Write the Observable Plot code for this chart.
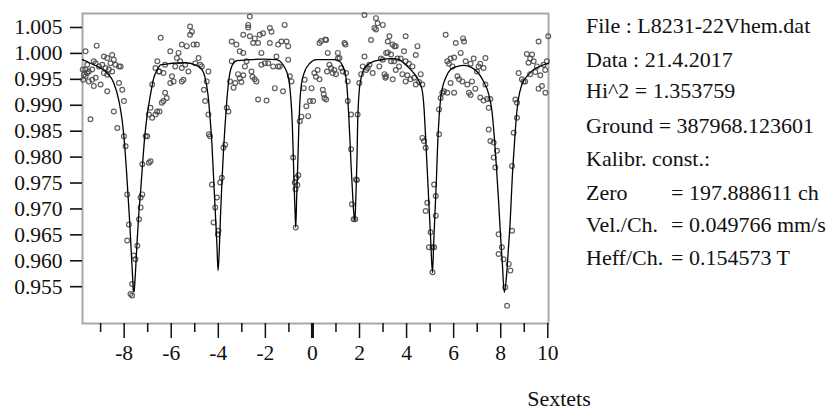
<!DOCTYPE html>
<html>
<head>
<meta charset="utf-8">
<script src="https://cdn.jsdelivr.net/npm/d3@7"></script>
<script src="https://cdn.jsdelivr.net/npm/@observablehq/plot@0.6"></script>
<style>
  html, body { margin: 0; padding: 0; background: #fff; }
  #chart { width: 829px; height: 410px; }
</style>
</head>
<body>
<div id="chart"></div>
<script>
// ---- Data ----
const yTicks = [1.005, 1.000, 0.995, 0.990, 0.985, 0.980, 0.975, 0.970, 0.965, 0.960, 0.955];
const xMajor = [-8, -6, -4, -2, 0, 2, 4, 6, 8, 10];
const xMinor = [-9, -7, -5, -3, -1, 1, 3, 5, 7, 9];
const xLabel = "Sextets";
const infoLabels = ["File : L8231-22Vhem.dat", "Data : 21.4.2017", "Hi^2 = 1.353759", "Ground = 387968.123601", "Kalibr. const.:", "Zero", "Vel./Ch.", "Heff/Ch."];
const infoValues = ["", "", "", "", "", "= 197.888611 ch", "= 0.049766 mm/s", "= 0.154573 T"];

// measured points [velocity mm/s, relative transmission]
const measured = [
[-9.76,0.9969],[-9.74,0.9949],[-9.71,0.9959],[-9.64,1.0004],[-9.64,0.9969],[-9.64,0.9956],[-9.57,0.9978],[-9.57,0.9962],[-9.50,0.9965],[-9.50,0.9946],[-9.43,0.9873],[-9.36,0.9969],[-9.36,0.9949],[-9.29,0.9985],[-9.29,0.9937],[-9.21,0.9981],[-9.21,0.9953],[-9.17,1.0015],[-9.07,0.9975],[-9.00,0.9940],[-8.93,0.9978],[-8.86,0.9994],[-8.86,0.9962],[-8.79,0.9972],[-8.72,0.9991],[-8.72,0.9959],[-8.72,0.9927],[-8.65,0.9969],[-8.58,0.9981],[-8.51,0.9997],[-8.51,0.9965],[-8.44,0.9988],[-8.44,0.9888],[-8.37,0.9978],[-8.29,0.9856],[-8.22,0.9975],[-8.22,0.9943],[-8.15,0.9975],[-8.08,0.9930],[-8.01,0.9908],[-8.01,0.9840],[-7.94,0.9821],[-7.87,0.9728],[-7.80,0.9670],[-7.87,0.9639],[-7.73,0.9536],[-7.66,0.9555],[-7.66,0.9533],[-7.59,0.9610],[-7.52,0.9603],[-7.44,0.9629],[-7.37,0.9680],[-7.30,0.9703],[-7.30,0.9722],[-7.23,0.9728],[-7.23,0.9786],[-7.09,0.9840],[-7.02,0.9840],[-6.95,0.9789],[-6.88,0.9792],[-6.95,0.9882],[-6.88,0.9895],[-6.81,0.9940],[-6.67,0.9972],[-6.59,0.9985],[-6.53,0.9965],[-6.45,1.0030],
[-6.81,0.9876],[-6.67,0.9882],[-6.60,0.9888],[-6.50,0.9965],[-6.40,0.9905],[-6.50,0.9888],[-6.33,0.9962],[-6.33,0.9908],[-6.26,0.9978],[-6.26,0.9924],[-6.19,0.9914],[-6.04,1.0004],[-6.04,0.9943],[-5.97,0.9956],[-5.90,0.9946],[-5.83,0.9975],[-5.76,0.9991],[-5.69,1.0001],[-5.62,0.9985],[-5.55,1.0017],[-5.55,0.9972],[-5.55,0.9946],[-5.48,0.9949],[-5.41,0.9978],[-5.34,1.0014],[-5.27,0.9965],[-5.20,1.0052],[-5.20,1.0036],[-5.12,1.0042],[-5.05,1.0017],[-4.98,0.9981],[-4.91,1.0017],[-4.84,0.9991],[-4.77,0.9978],[-4.70,0.9975],[-4.61,0.9930],[-4.56,0.9908],[-4.49,0.9946],[-4.42,0.9965],[-4.42,0.9882],[-4.40,0.9844],[-4.35,0.9840],[-4.27,0.9747],[-4.20,0.9674],[-4.13,0.9703],[-4.06,0.9722],[-4.02,0.9651],[-3.99,0.9658],[-3.92,0.9751],[-3.85,0.9760],[-3.78,0.9818],[-3.71,0.9824],[-3.64,0.9895],[-3.57,0.9888],[-3.50,0.9946],[-3.43,0.9985],[-3.43,1.0023],[-3.35,0.9934],[-3.28,0.9943],
[-3.23,1.0017],[-3.16,0.9960],[-3.09,1.0004],[-3.09,0.9952],[-3.02,0.9945],[-2.94,1.0036],[-2.94,1.0001],[-2.94,0.9958],[-2.87,0.9975],[-2.80,0.9985],[-2.73,1.0055],[-2.73,1.0050],[-2.66,1.0071],[-2.66,1.0033],[-2.59,0.9965],[-2.55,0.9955],[-2.52,1.0020],[-2.45,1.0029],[-2.45,0.9950],[-2.38,0.9946],[-2.31,1.0020],[-2.31,0.9911],[-2.24,1.0036],[-2.17,1.0001],[-2.17,0.9978],[-2.10,1.0039],[-2.02,0.9981],[-1.95,0.9909],[-1.88,0.9981],[-1.81,1.0049],[-1.81,1.0020],[-1.74,1.0042],[-1.67,0.9975],[-1.60,0.9933],[-1.53,0.9994],[-1.46,1.0017],[-1.46,0.9975],[-1.39,0.9975],[-1.32,1.0023],[-1.25,0.9927],[-1.18,1.0055],[-1.10,1.0023],[-1.03,1.0014],[-1.03,0.9988],[-0.96,0.9956],[-0.89,0.9946],[-0.82,0.9799],[-0.75,0.9751],[-0.72,0.9738],[-0.71,0.9664],[-0.68,0.9760],[-0.64,0.9746],[-0.60,0.9765],[-0.54,0.9869],[-0.47,0.9878],[-0.37,0.9933],[-0.33,0.9949],[-0.26,0.9898],[-0.18,0.9879],[-0.11,0.9908],[-0.04,0.9933],[0.03,0.9908],
[0.08,0.9962],[0.15,0.9955],[0.22,0.9968],[0.30,1.0020],[0.30,0.9950],[0.37,1.0024],[0.44,0.9930],[0.48,0.9921],[0.51,0.9914],[0.55,1.0027],[0.58,1.0026],[0.58,0.9911],[0.62,0.9965],[0.65,1.0001],[0.72,0.9978],[0.79,0.9972],[0.86,0.9962],[0.93,0.9968],[1.00,0.9960],[1.08,1.0001],[1.08,0.9990],[1.15,0.9991],[1.22,0.9972],[1.29,0.9965],[1.36,1.0020],[1.40,1.0017],[1.43,0.9962],[1.50,0.9946],[1.50,0.9908],[1.64,0.9882],[1.64,0.9815],[1.68,0.9709],[1.75,0.9680],[1.82,0.9680],[1.85,0.9757],[1.89,0.9756],[1.92,0.9882],[1.99,0.9943],[2.07,0.9960],[2.14,0.9975],[2.21,1.0074],[2.21,0.9994],[2.28,0.9968],[2.35,0.9972],[2.42,0.9978],[2.49,1.0026],[2.56,0.9962],[2.63,1.0049],[2.70,1.0068],[2.70,1.0046],[2.77,1.0058],[2.84,0.9975],[2.91,0.9990],[2.99,1.0055],[2.99,0.9988],[3.06,0.9960],[3.10,0.9953],[3.13,0.9956],[3.13,1.0001],[3.20,1.0023],[3.20,1.0002],[3.27,1.0033],[3.34,0.9985],[3.34,0.9998],[3.41,0.9950],[3.48,1.0014],
[3.40,1.0017],[3.47,0.9985],[3.54,1.0014],[3.54,0.9968],[3.61,0.9990],[3.68,0.9975],[3.75,0.9990],[3.82,0.9960],[3.89,1.0004],[3.96,1.0033],[3.96,0.9946],[3.96,0.9985],[4.03,0.9958],[4.10,0.9980],[4.17,0.9950],[4.25,0.9975],[4.32,0.9953],[4.39,0.9997],[4.39,0.9940],[4.46,1.0014],[4.53,0.9945],[4.60,0.9960],[4.67,0.9940],[4.67,0.9837],[4.74,0.9831],[4.81,0.9818],[4.81,0.9696],[4.88,0.9712],[4.95,0.9626],[5.02,0.9655],[5.10,0.9626],[5.10,0.9578],[5.17,0.9626],[5.17,0.9747],[5.24,0.9725],[5.24,0.9687],[5.38,0.9844],[5.38,0.9892],[5.45,0.9914],[5.52,0.9924],[5.59,0.9927],[5.66,1.0036],[5.73,0.9924],[5.73,0.9985],[5.80,0.9980],[5.87,0.9943],[5.87,0.9990],[5.95,0.9975],[6.02,0.9924],[6.02,0.9992],[6.09,1.0020],[6.16,0.9956],[6.23,0.9950],[6.30,1.0001],[6.37,0.9946],[6.40,1.0029],[6.44,1.0023],[6.51,0.9985],[6.58,0.9940],[6.65,0.9924],[6.72,0.9980],[6.72,0.9920],
[6.78,0.9946],[6.85,0.9990],[6.92,0.9932],[6.99,0.9965],[7.06,0.9975],[7.13,0.9980],[7.13,0.9915],[7.27,0.9972],[7.27,0.9909],[7.35,0.9940],[7.35,0.9991],[7.42,0.9912],[7.49,0.9895],[7.49,0.9853],[7.56,0.9912],[7.56,0.9831],[7.70,0.9799],[7.70,0.9828],[7.77,0.9780],[7.84,0.9812],[7.91,0.9651],[7.91,0.9613],[8.05,0.9626],[8.12,0.9603],[8.19,0.9549],[8.27,0.9513],[8.34,0.9594],[8.41,0.9581],[8.48,0.9658],[8.48,0.9783],[8.55,0.9847],[8.62,0.9911],[8.69,0.9876],[8.69,0.9905],[8.76,0.9962],[8.90,0.9950],[8.97,0.9946],[9.04,0.9946],[9.11,0.9999],[9.18,0.9982],[9.25,0.9990],[9.25,0.9960],[9.33,0.9998],[9.40,0.9985],[9.47,0.9964],[9.54,0.9975],[9.61,1.0023],[9.61,0.9932],[9.68,0.9958],[9.75,0.9937],[9.82,0.9978],[9.89,0.9968],[9.90,0.9924],[9.96,0.9985],[10.02,1.0033]
];

// fitted curve [velocity mm/s, relative transmission]
const fitted = [
[-9.77,0.9988],[-9.43,0.9981],[-9.14,0.9975],[-8.72,0.9962],[-8.44,0.9943],[-8.22,0.9908],[-8.08,0.9869],[-7.98,0.9824],[-7.90,0.9773],[-7.83,0.9722],[-7.76,0.9671],[-7.70,0.9619],[-7.64,0.9568],[-7.61,0.9542],[-7.58,0.9540],[-7.56,0.9549],[-7.50,0.9594],[-7.44,0.9645],[-7.37,0.9696],[-7.30,0.9735],[-7.23,0.9779],[-7.13,0.9837],[-7.02,0.9882],[-6.88,0.9921],[-6.74,0.9953],[-6.59,0.9969],[-6.45,0.9978],[-6.26,0.9979],[-5.97,0.9981],[-5.41,0.9982],[-4.98,0.9978],[-4.70,0.9969],[-4.56,0.9953],[-4.44,0.9921],[-4.35,0.9876],[-4.27,0.9824],[-4.20,0.9760],[-4.13,0.9696],[-4.06,0.9632],[-4.01,0.9581],[-3.96,0.9619],[-3.91,0.9683],[-3.85,0.9747],[-3.78,0.9812],[-3.71,0.9863],[-3.64,0.9908],[-3.54,0.9953],[-3.40,0.9978],[-3.21,0.9986],[-2.66,0.9988],[-2.09,0.9989],[-1.53,0.9988],[-1.25,0.9978],[-1.10,0.9965],[-0.99,0.9946],[-0.92,0.9914],[-0.86,0.9869],[-0.82,0.9812],[-0.78,0.9747],[-0.74,0.9696],[-0.71,0.9664],[-0.67,0.9722],[-0.62,0.9792],[-0.58,0.9856],[-0.54,0.9901],[-0.47,0.9940],[-0.33,0.9965],[-0.11,0.9981],[0.17,0.9988],[0.93,0.9988],[1.15,0.9985],[1.29,0.9975],[1.39,0.9962],[1.46,0.9940],[1.50,0.9914],[1.54,0.9882],[1.59,0.9837],[1.64,0.9786],[1.70,0.9735],[1.75,0.9696],[1.80,0.9677],[1.84,0.9715],[1.87,0.9760],[1.90,0.9812],[1.92,0.9863],[1.95,0.9901],[2.00,0.9933],[2.07,0.9953],[2.18,0.9969],[2.35,0.9978],[2.63,0.9985],[2.92,0.9988],[3.40,0.9990],[3.68,0.9988],[3.96,0.9978],[4.25,0.9965],[4.53,0.9946],[4.67,0.9927],[4.74,0.9895],[4.81,0.9837],[4.88,0.9773],[4.95,0.9709],[5.02,0.9645],[5.10,0.9577],[5.15,0.9632],[5.21,0.9696],[5.27,0.9760],[5.32,0.9824],[5.38,0.9876],[5.45,0.9914],[5.52,0.9933],[5.66,0.9953],[5.87,0.9969],[6.16,0.9975],[6.44,0.9977],[6.75,0.9973],[6.99,0.9965],[7.27,0.9946],[7.49,0.9921],[7.63,0.9888],[7.73,0.9837],[7.81,0.9786],[7.90,0.9722],[7.98,0.9658],[8.07,0.9594],[8.15,0.9539],[8.24,0.9568],[8.32,0.9619],[8.41,0.9683],[8.49,0.9760],[8.58,0.9824],[8.66,0.9876],[8.76,0.9914],[8.90,0.9940],[9.12,0.9956],[9.40,0.9969],[9.75,0.9977],[10.03,0.9981]
];

// ---- Chart ----
const FONT = "'Liberation Serif', 'Times New Roman', serif";
const TXT = "#111";

const chart = Plot.plot({
  width: 829,
  height: 410,
  marginLeft: 82,
  marginRight: 281,
  marginTop: 13,
  marginBottom: 87,
  style: { fontFamily: FONT, fontSize: "21.5px", background: "#fff", color: TXT },
  x: { domain: [-9.77, 10.03], label: null },
  y: { domain: [0.9479, 1.0077], label: null },
  marks: [
    Plot.frame({ stroke: "#a8a8a8", strokeWidth: 2 }),
    Plot.axisY({ ticks: yTicks, tickSize: 12, tickPadding: 8, tickFormat: d3.format(".3f"),
                 strokeWidth: 1.6, color: TXT, fontSize: 21.5, label: null }),
    Plot.axisX({ ticks: xMinor, tickSize: 9, tickFormat: () => "", strokeWidth: 1.5, color: TXT, label: null }),
    Plot.axisX({ ticks: xMajor, tickSize: 15, tickPadding: 6, tickFormat: d => String(d),
                 strokeWidth: 1.5, color: TXT, fontSize: 21.5, label: null }),
    Plot.axisX({ ticks: [0], tickSize: 15, tickFormat: () => "", strokeWidth: 3, color: TXT, label: null }),
    Plot.dot(measured, { x: d => d[0], y: d => d[1], r: 2.4, fill: "none", stroke: "#444", strokeWidth: 1.2, strokeOpacity: 0.85 }),
    Plot.line(fitted, { x: d => d[0], y: d => d[1], stroke: "#000", strokeWidth: 1.3, curve: "monotone-x" })
  ]
});

document.getElementById("chart").appendChild(chart);

// side annotations and x label
const svg = d3.select(chart);
const baselines = [33, 67, 98, 133, 166, 200, 232, 265];
const g = svg.append("g")
  .attr("font-family", FONT).attr("font-size", 22).attr("fill", TXT)
  .attr("text-anchor", "start");
infoLabels.forEach((t, i) => {
  g.append("text").attr("x", 586).attr("y", baselines[i]).attr("text-anchor", "start").text(t);
  if (infoValues[i]) g.append("text").attr("x", 671).attr("y", baselines[i]).attr("text-anchor", "start").text(infoValues[i]);
});
g.append("text").attr("x", 559).attr("y", 406).attr("text-anchor", "middle").text(xLabel);
</script>
</body>
</html>
